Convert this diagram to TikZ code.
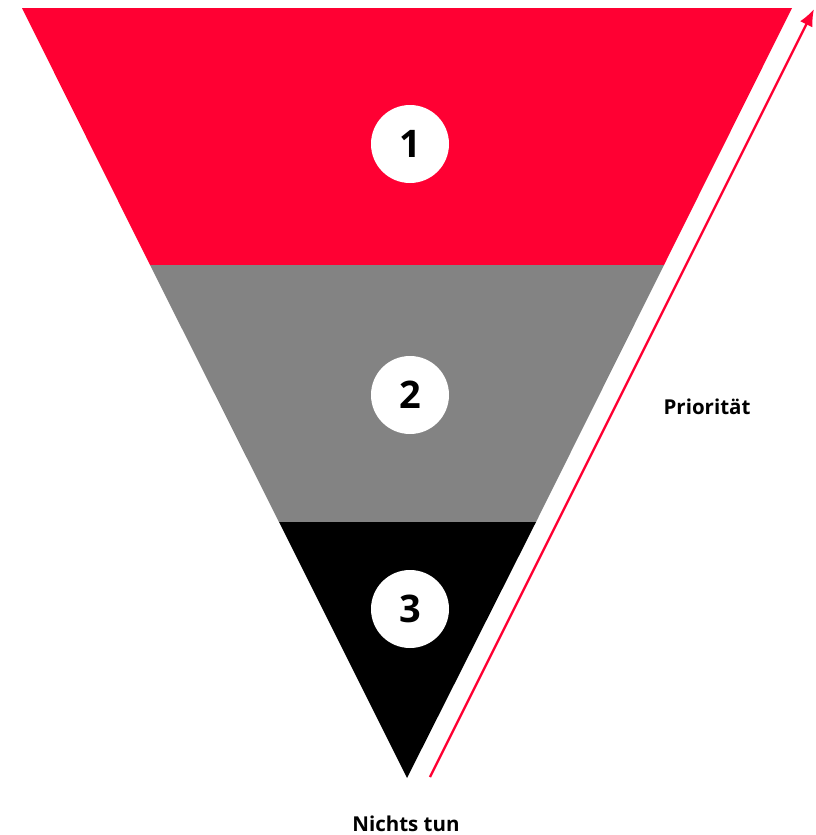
\documentclass[tikz,border=0pt]{standalone}
\usepackage{fontspec}
\setmainfont{Open Sans}
\usetikzlibrary{arrows.meta}
\definecolor{fred}{HTML}{FF0033}
\definecolor{fgrey}{HTML}{838383}
\tikzset{
  num/.style={circle,fill=white,minimum size=78pt,inner sep=0pt,font=\fontsize{38}{44}\selectfont\bfseries},
  lbl/.style={font=\fontsize{20.5}{24}\selectfont\bfseries,inner sep=0pt}
}
\begin{document}
\begin{tikzpicture}[x=1pt,y=-1pt]
\useasboundingbox (0,0) rectangle (815,835);
\fill[fred] (22,8) -- (792,8) -- (664,265) -- (150,265) -- cycle;
\fill[fgrey] (150,265) -- (664,265) -- (536,522) -- (279,522) -- cycle;
\fill[black] (279,522) -- (536,522) -- (407,778) -- cycle;
\node[num] (n1) at (410,144) {1};
\node[num] (n2) at (410,395) {2};
\node[num] (n3) at (410,609) {3};
\coordinate (a0) at (430,777);
\coordinate (a1) at (814,9);
\draw[fred,line width=2.4pt,-{Latex[length=17pt,width=14pt]}] (a0) -- (a1);
\node[lbl,anchor=base] (p) at (707,414) {Priorität};
\node[lbl,anchor=base] (nt) at (406,831.5) {Nichts tun};
\end{tikzpicture}
\end{document}
